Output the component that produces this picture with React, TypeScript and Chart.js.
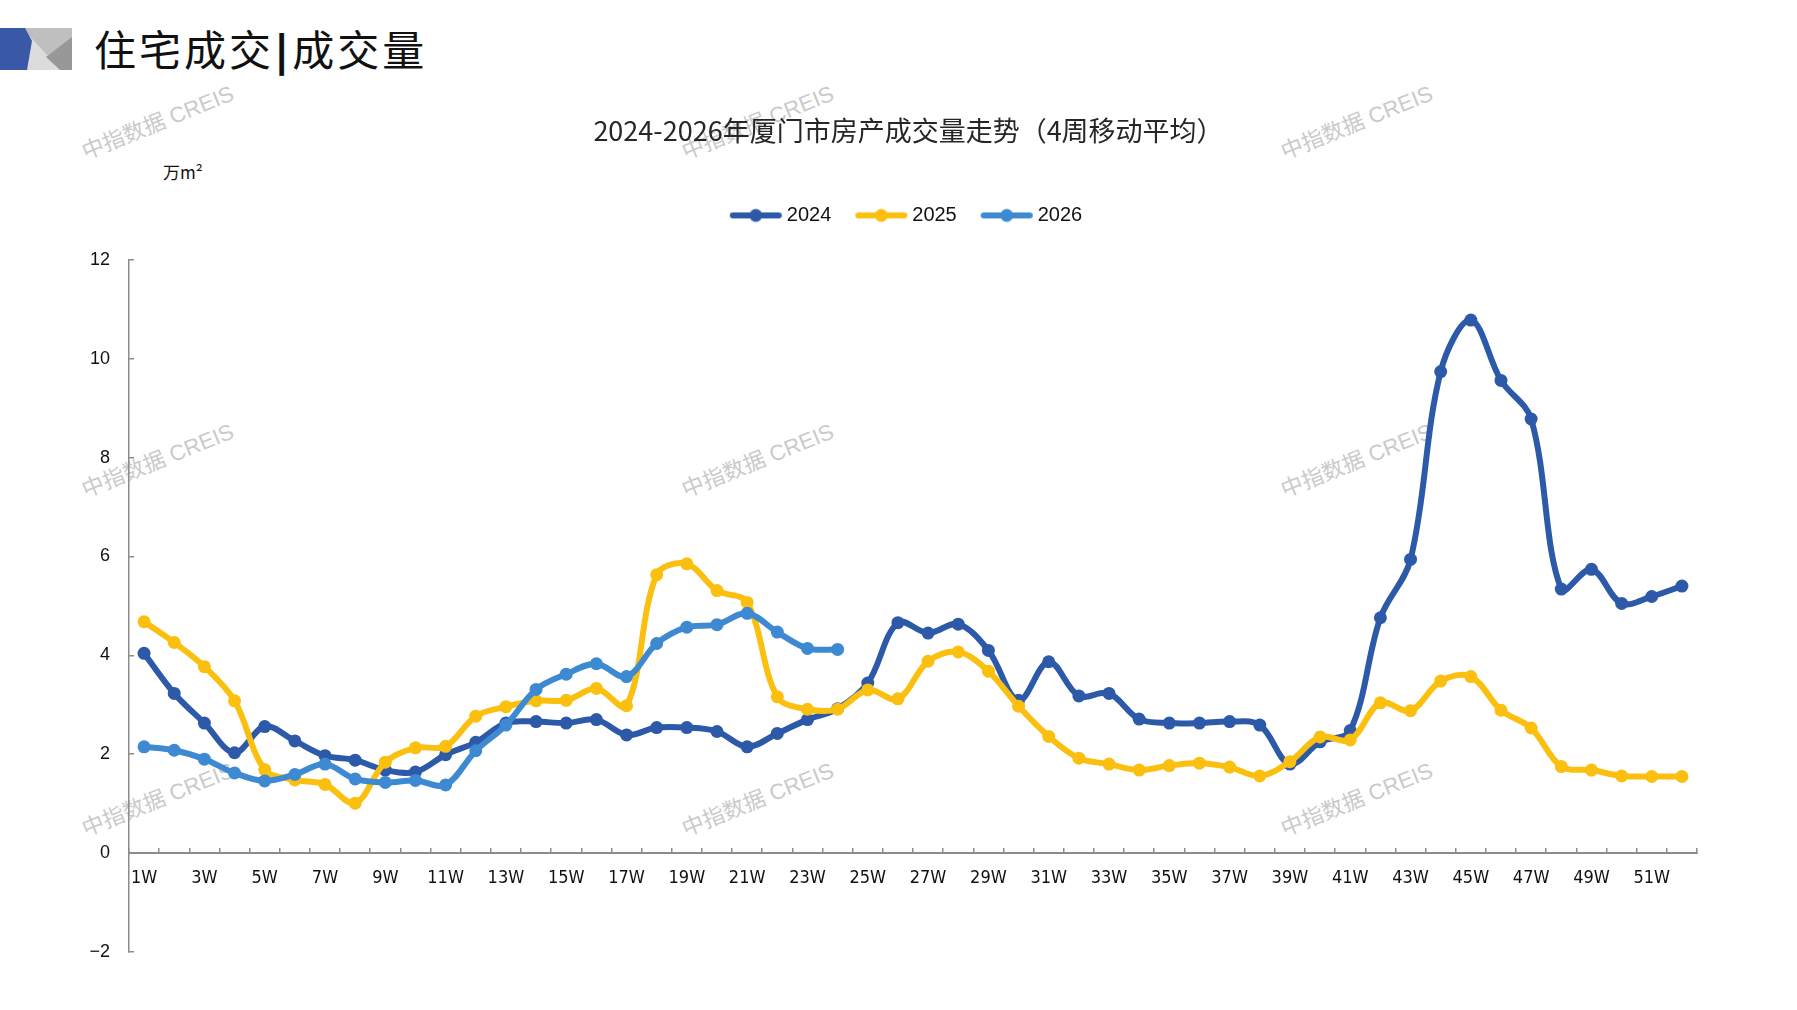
import React, { useEffect, useRef } from "react";
import { Chart, registerables } from "chart.js";

Chart.register(...registerables);

// week categories
const weeks = [
    "1W", "2W", "3W", "4W", "5W", "6W", "7W", "8W", "9W", "10W",
    "11W", "12W", "13W", "14W", "15W", "16W", "17W", "18W", "19W", "20W",
    "21W", "22W", "23W", "24W", "25W", "26W", "27W", "28W", "29W", "30W",
    "31W", "32W", "33W", "34W", "35W", "36W", "37W", "38W", "39W", "40W",
    "41W", "42W", "43W", "44W", "45W", "46W", "47W", "48W", "49W", "50W",
    "51W", "52W",
];

// 4-week moving average, 万m²
const sales2024 = [
    4.04, 3.23, 2.63, 2.03, 2.56, 2.27, 1.97, 1.88, 1.68, 1.64,
    1.99, 2.24, 2.63, 2.66, 2.63, 2.70, 2.39, 2.54, 2.54, 2.46,
    2.15, 2.42, 2.70, 2.92, 3.44, 4.66, 4.45, 4.63, 4.10, 3.09,
    3.87, 3.18, 3.23, 2.71, 2.63, 2.63, 2.66, 2.59, 1.80, 2.25,
    2.48, 4.76, 5.94, 9.74, 10.78, 9.56, 8.78, 5.34, 5.74, 5.05,
    5.19, 5.40,
];

const sales2025 = [
    4.68, 4.26, 3.77, 3.08, 1.69, 1.48, 1.39, 1.01, 1.84, 2.13,
    2.16, 2.77, 2.96, 3.08, 3.09, 3.33, 2.98, 5.63, 5.85, 5.31,
    5.07, 3.16, 2.91, 2.91, 3.30, 3.12, 3.88, 4.07, 3.68, 2.97,
    2.36, 1.92, 1.80, 1.68, 1.77, 1.82, 1.74, 1.56, 1.85, 2.35,
    2.29, 3.04, 2.88, 3.48, 3.57, 2.89, 2.53, 1.75, 1.68, 1.56,
    1.55, 1.55,
];

const sales2026 = [
    2.15, 2.08, 1.90, 1.62, 1.46, 1.59, 1.80, 1.50, 1.43, 1.47,
    1.38, 2.07, 2.59, 3.31, 3.62, 3.83, 3.57, 4.24, 4.57, 4.62,
    4.85, 4.47, 4.14, 4.12,
];

const yearLabels = ["2024", "2025", "2026"];
const yTicks = { min: -2, max: 12, step: 2 };

const COLORS = ["#2C5AA8", "#FBBF0F", "#3D8AD3"];
const AXIS = "#8c8c8c";

const watermarkSpots = [
    [158, 123], [758, 123], [1357, 123],
    [158, 461], [758, 461], [1357, 461],
    [158, 800], [758, 800], [1357, 800],
];

// little line + dot picture for the legend
function legendMarker(color: string) {
    const c = document.createElement("canvas");
    c.width = 54;
    c.height = 16;
    const ctx = c.getContext("2d");
    if (ctx) {
        ctx.strokeStyle = color;
        ctx.lineWidth = 6;
        ctx.lineCap = "round";
        ctx.beginPath();
        ctx.moveTo(4, 8);
        ctx.lineTo(50, 8);
        ctx.stroke();
        ctx.fillStyle = color;
        ctx.beginPath();
        ctx.arc(27, 8, 6.5, 0, Math.PI * 2);
        ctx.fill();
    }
    return c;
}

const TrendChart: React.FC = () => {
    const chartRef = useRef<HTMLCanvasElement | null>(null);
    const chartInstance = useRef<Chart<"line"> | null>(null);

    useEffect(() => {
        if (chartRef.current === null) return;
        const ctx = chartRef.current.getContext("2d");
        if (ctx === null) return;

        const markers = COLORS.map(legendMarker);
        const series = [sales2024, sales2025, sales2026];

        chartInstance.current = new Chart(ctx, {
            type: "line",
            data: {
                labels: weeks,
                datasets: series.map((data, i) => ({
                    label: yearLabels[i],
                    data: data,
                    xAxisID: "x",
                    yAxisID: "y",
                    borderColor: COLORS[i],
                    backgroundColor: COLORS[i],
                    pointBackgroundColor: COLORS[i],
                    pointBorderColor: COLORS[i],
                    pointBorderWidth: 0,
                    pointRadius: 6.5,
                    pointHoverRadius: 6.5,
                    borderWidth: 6,
                    tension: 0.35,
                    fill: false,
                    order: 3 - i, // later years drawn on top
                })),
            },
            options: {
                responsive: false,
                animation: false,
                devicePixelRatio: 1,
                layout: { padding: { left: 20, right: 0, top: 0, bottom: 58 } },
                plugins: {
                    title: {
                        display: true,
                        text: "2024-2026年厦门市房产成交量走势（4周移动平均）",
                        color: "#262626",
                        font: { family: '"Noto Sans CJK SC", sans-serif', size: 27, weight: "normal", lineHeight: 1.2 },
                        padding: { top: 114.5, bottom: 29.5 },
                    },
                    legend: {
                        display: true,
                        position: "top",
                        labels: {
                            usePointStyle: true,
                            pointStyleWidth: 42,
                            padding: 29,
                            color: "#111",
                            font: { family: '"Liberation Sans", Arial, sans-serif', size: 20 },
                            generateLabels: (chart) =>
                                Chart.defaults.plugins.legend.labels.generateLabels(chart).map((item) => ({
                                    ...item,
                                    pointStyle: markers[item.datasetIndex ?? 0],
                                })),
                            sort: (a, b) => (a.datasetIndex ?? 0) - (b.datasetIndex ?? 0),
                        },
                    },
                    tooltip: { enabled: false },
                },
                scales: {
                    x: {
                        type: "category",
                        position: { y: 0 },
                        offset: true,
                        grid: {
                            display: true,
                            offset: true,
                            drawOnChartArea: false,
                            drawTicks: true,
                            tickLength: -6,
                            color: AXIS,
                            lineWidth: 1.5,
                        },
                        border: { display: true, color: AXIS, width: 2 },
                        ticks: {
                            autoSkip: false,
                            maxRotation: 0,
                            padding: 20,
                            color: "#111",
                            font: { family: '"Liberation Sans Narrow", "DejaVu Sans Condensed", sans-serif', size: 18 },
                            callback: (_value, index) => (index % 2 === 0 ? weeks[index] : ""),
                        },
                    },
                    y: {
                        min: yTicks.min,
                        max: yTicks.max,
                        grid: {
                            display: true,
                            drawOnChartArea: false,
                            drawTicks: true,
                            tickLength: -5,
                            color: AXIS,
                            lineWidth: 1.5,
                        },
                        border: { display: true, color: AXIS, width: 1.5 },
                        ticks: {
                            stepSize: yTicks.step,
                            padding: 24,
                            color: "#111",
                            font: { family: '"Liberation Sans", Arial, sans-serif', size: 18 },
                            callback: (value) => String(value).replace("-", "\u2212"),
                        },
                        afterFit: (scale) => {
                            scale.width = 109;
                        },
                    },
                    // empty boxes that keep the gaps around the plot
                    gapTop: {
                        type: "category",
                        axis: "x",
                        position: "top",
                        display: true,
                        grid: { display: false },
                        border: { display: false },
                        ticks: { display: false },
                        afterFit: (scale) => {
                            scale.height = 24.4;
                        },
                    },
                    gapRight: {
                        type: "linear",
                        axis: "y",
                        position: "right",
                        display: true,
                        grid: { display: false },
                        border: { display: false },
                        ticks: { display: false },
                        afterFit: (scale) => {
                            scale.width = 100;
                        },
                    },
                },
            },
        });

        return () => {
            if (chartInstance.current !== null) {
                chartInstance.current.destroy();
                chartInstance.current = null;
            }
        };
    }, []);

    return (
        <canvas
            ref={chartRef}
            width={1797}
            height={1010}
            style={{ position: "absolute", left: 0, top: 0, width: 1797, height: 1010 }}
        ></canvas>
    );
};

const App: React.FC = () => {
    useEffect(() => {
        document.body.style.margin = "0";
    }, []);

    return (
        <div
            style={{
                position: "absolute",
                left: 0,
                top: 0,
                width: 1797,
                height: 1010,
                background: "#fff",
                overflow: "hidden",
                fontFamily: '"Noto Sans CJK SC", sans-serif',
            }}
        >
            {watermarkSpots.map(([x, y], i) => (
                <div
                    key={i}
                    style={{
                        position: "absolute",
                        left: x,
                        top: y,
                        transform: "translate(-50%, -50%) rotate(-22deg)",
                        whiteSpace: "nowrap",
                        fontSize: 22,
                        lineHeight: "22px",
                        color: "#cacaca",
                        fontFamily: '"Liberation Sans", "Noto Sans CJK SC", sans-serif',
                    }}
                >
                    中指数据 CREIS
                </div>
            ))}

            <svg width={74} height={44} style={{ position: "absolute", left: 0, top: 28 }}>
                <rect x={22} y={0} width={50} height={42} fill="#dcdcdc" />
                <polygon points="22,0 72,0 72,10 50,30" fill="#bfbfbf" />
                <polygon points="46,29 72,9 72,42 60,42" fill="#989898" />
                <polygon points="0,0 25,0 32,13 27,42 0,42" fill="#3A58A8" />
            </svg>

            <div
                style={{
                    position: "absolute",
                    left: 94,
                    top: 27,
                    fontSize: 42,
                    lineHeight: "42px",
                    letterSpacing: 3,
                    color: "#111",
                    whiteSpace: "nowrap",
                }}
            >
                住宅成交
                <span style={{ fontFamily: '"DejaVu Sans", sans-serif', fontWeight: 700 }}>|</span>
                成交量
            </div>

            <div
                style={{
                    position: "absolute",
                    left: 163,
                    top: 163,
                    fontSize: 17,
                    lineHeight: "17px",
                    color: "#111",
                    whiteSpace: "nowrap",
                }}
            >
                万m²
            </div>

            <TrendChart />
        </div>
    );
};

export default App;
